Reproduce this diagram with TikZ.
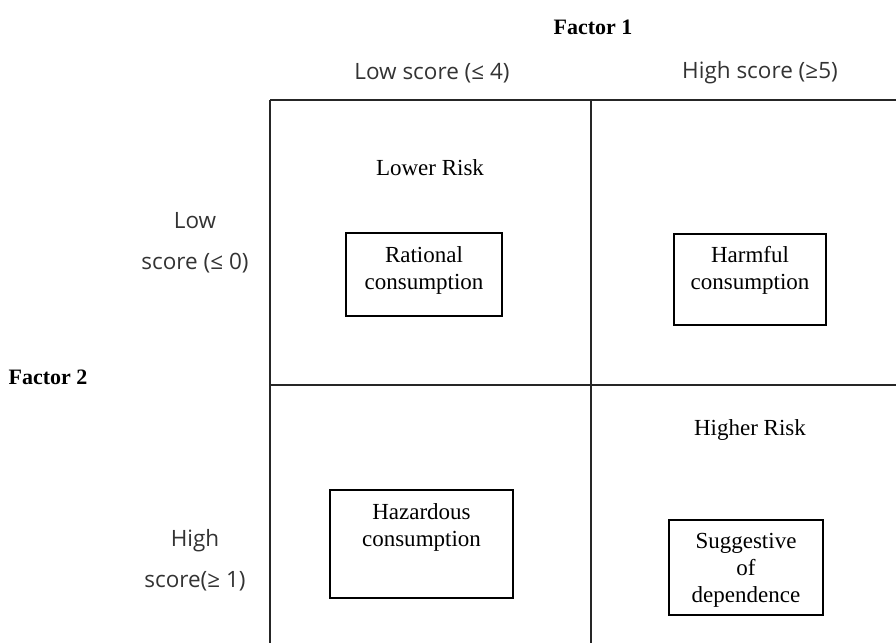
\documentclass[tikz,border=0pt]{standalone}
\usepackage{fontspec}
\setmainfont{Liberation Serif}
\newfontfamily\scorefont{Open Sans}
\begin{document}
\begin{tikzpicture}[x=1pt,y=-1pt,
	grid/.style={line width=1.3pt, draw=black!85},
	box/.style={draw, line width=1.1pt, inner sep=0pt},
	risk/.style={font=\fontsize{23}{27}\selectfont, align=center},
	score/.style={font=\scorefont\fontsize{22.5}{41}\selectfont, text=black!80, align=center},
	factor/.style={font=\fontsize{22}{26}\selectfont\bfseries}]
	\useasboundingbox (0,0) rectangle (896,643);
	
	% grid
	\draw[grid] (270,100) -- (896,100);
	\draw[grid] (270,385) -- (896,385);
	\draw[grid] (270,100) -- (270,643);
	\draw[grid] (591,100) -- (591,643);
	
	% axes
	\node[factor] (FA) at (593,27) {Factor 1};
	\node[score] (FAL) at (432,73) {Low score (≤ 4)};
	\node[score] (FAH) at (760,73) {High score (≥5)};
	\node[factor] (FB) at (48,377) {Factor 2};
	\node[score] (FBL) at (195,243) {Low\\score (≤ 0)};
	\node[score] (FBH) at (195,560) {High\\score(≥ 1)};
	
	% cells
	\node[risk] (LR) at (430,168) {Lower Risk};
	\node[risk] (HR) at (750,430) {Higher Risk};
	
	\node[box, minimum width=156, minimum height=83] (RC) at (424,274.5) {};
	\node[risk] (RCt) at (424,270) {Rational\\consumption};
	\node[box, minimum width=152, minimum height=91] (HC) at (750,279.5) {};
	\node[risk] (HCt) at (750,270) {Harmful\\consumption};
	\node[box, minimum width=183, minimum height=108] (ZC) at (421.5,544) {};
	\node[risk] (ZCt) at (421.5,527) {Hazardous\\consumption};
	\node[box, minimum width=154, minimum height=95] (SD) at (746,567.5) {};
	\node[risk] (SDt) at (746,570) {Suggestive\\of\\dependence};
\end{tikzpicture}
\end{document}
